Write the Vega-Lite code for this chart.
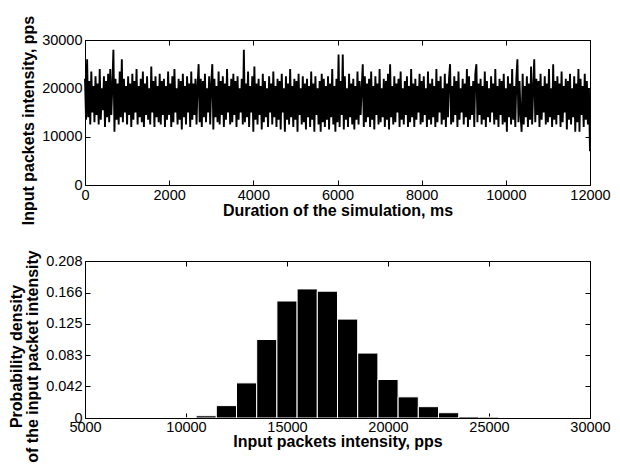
{
"$schema": "https://vega.github.io/schema/vega-lite/v6.json",
"background": "white",
"padding": {"left": 8, "top": 14, "right": 0, "bottom": 0},
"config": {
  "font": "Liberation Sans",
  "view": {"stroke": "black", "strokeWidth": 1},
  "axis": {"grid": false, "domain": false, "tickColor": "black", "tickSize": -5, "tickWidth": 1,
    "labelFont": "Liberation Sans", "labelFontSize": 14.5, "labelColor": "black", "labelFlush": false, "labelOverlap": false,
    "titleFont": "Liberation Sans", "titleFontSize": 16, "titleFontWeight": "bold", "titleColor": "black"}
},
"datasets": {
"series": [
{"t":0,"v":22000},{"t":25,"v":13500},{"t":50,"v":26000},{"t":75,"v":14000},{"t":100,"v":21500},{"t":125,"v":12500},{"t":150,"v":23500},{"t":175,"v":15000},{"t":200,"v":20500},{"t":225,"v":13000},
{"t":250,"v":22500},{"t":275,"v":14500},{"t":300,"v":21000},{"t":325,"v":12500},{"t":350,"v":24000},{"t":375,"v":13500},{"t":400,"v":20000},{"t":425,"v":15500},{"t":450,"v":22500},{"t":475,"v":12000},
{"t":500,"v":21500},{"t":525,"v":14000},{"t":550,"v":23000},{"t":575,"v":13000},{"t":600,"v":24000},{"t":625,"v":14500},{"t":650,"v":20500},{"t":675,"v":28000},{"t":700,"v":11000},{"t":725,"v":22000},
{"t":750,"v":13500},{"t":775,"v":21000},{"t":800,"v":12500},{"t":825,"v":23500},{"t":850,"v":14000},{"t":875,"v":26000},{"t":900,"v":13000},{"t":925,"v":22000},{"t":950,"v":15000},{"t":975,"v":20500},
{"t":1000,"v":12500},{"t":1025,"v":22500},{"t":1050,"v":14500},{"t":1075,"v":21000},{"t":1100,"v":12000},{"t":1125,"v":23000},{"t":1150,"v":13500},{"t":1175,"v":21500},{"t":1200,"v":15000},{"t":1225,"v":24000},
{"t":1250,"v":12500},{"t":1275,"v":20500},{"t":1300,"v":14000},{"t":1325,"v":22000},{"t":1350,"v":13000},{"t":1375,"v":23500},{"t":1400,"v":12000},{"t":1425,"v":21000},{"t":1450,"v":14500},{"t":1475,"v":22500},
{"t":1500,"v":13500},{"t":1525,"v":20000},{"t":1550,"v":12500},{"t":1575,"v":24500},{"t":1600,"v":15000},{"t":1625,"v":21500},{"t":1650,"v":12000},{"t":1675,"v":22500},{"t":1700,"v":14000},{"t":1725,"v":20500},
{"t":1750,"v":13000},{"t":1775,"v":23000},{"t":1800,"v":12500},{"t":1825,"v":21500},{"t":1850,"v":14500},{"t":1875,"v":22000},{"t":1900,"v":12000},{"t":1925,"v":20500},{"t":1950,"v":13500},{"t":1975,"v":23500},
{"t":2000,"v":14500},{"t":2025,"v":21000},{"t":2050,"v":12000},{"t":2075,"v":22500},{"t":2100,"v":13000},{"t":2125,"v":24000},{"t":2150,"v":15000},{"t":2175,"v":20000},{"t":2200,"v":12500},{"t":2225,"v":22000},
{"t":2250,"v":13500},{"t":2275,"v":21500},{"t":2300,"v":11500},{"t":2325,"v":23000},{"t":2350,"v":14000},{"t":2375,"v":20500},{"t":2400,"v":12500},{"t":2425,"v":22500},{"t":2450,"v":15000},{"t":2475,"v":21000},
{"t":2500,"v":12000},{"t":2525,"v":23500},{"t":2550,"v":13500},{"t":2575,"v":21000},{"t":2600,"v":14500},{"t":2625,"v":22000},{"t":2650,"v":12500},{"t":2675,"v":20500},{"t":2700,"v":25000},{"t":2725,"v":13000},
{"t":2750,"v":22000},{"t":2775,"v":12000},{"t":2800,"v":21500},{"t":2825,"v":14000},{"t":2850,"v":23000},{"t":2875,"v":13000},{"t":2900,"v":20000},{"t":2925,"v":15000},{"t":2950,"v":22500},{"t":2975,"v":12500},
{"t":3000,"v":21000},{"t":3025,"v":25000},{"t":3050,"v":11500},{"t":3075,"v":22000},{"t":3100,"v":14000},{"t":3125,"v":20500},{"t":3150,"v":13000},{"t":3175,"v":23500},{"t":3200,"v":12500},{"t":3225,"v":21500},
{"t":3250,"v":14500},{"t":3275,"v":22500},{"t":3300,"v":12000},{"t":3325,"v":21000},{"t":3350,"v":13500},{"t":3375,"v":24000},{"t":3400,"v":15000},{"t":3425,"v":20500},{"t":3450,"v":12500},{"t":3475,"v":22000},
{"t":3500,"v":13000},{"t":3525,"v":23000},{"t":3550,"v":14500},{"t":3575,"v":21500},{"t":3600,"v":12000},{"t":3625,"v":22500},{"t":3650,"v":13500},{"t":3675,"v":20000},{"t":3700,"v":15000},{"t":3725,"v":22000},
{"t":3750,"v":12500},{"t":3775,"v":28000},{"t":3800,"v":13000},{"t":3825,"v":21000},{"t":3850,"v":14000},{"t":3875,"v":23500},{"t":3900,"v":12000},{"t":3925,"v":20500},{"t":3950,"v":15000},{"t":3975,"v":22500},
{"t":4000,"v":11000},{"t":4025,"v":24500},{"t":4050,"v":13500},{"t":4075,"v":21000},{"t":4100,"v":12500},{"t":4125,"v":22000},{"t":4150,"v":14500},{"t":4175,"v":20500},{"t":4200,"v":11500},{"t":4225,"v":23000},
{"t":4250,"v":13000},{"t":4275,"v":21500},{"t":4300,"v":14000},{"t":4325,"v":20000},{"t":4350,"v":12000},{"t":4375,"v":22500},{"t":4400,"v":15000},{"t":4425,"v":21000},{"t":4450,"v":12500},{"t":4475,"v":23500},
{"t":4500,"v":14000},{"t":4525,"v":20500},{"t":4550,"v":12000},{"t":4575,"v":22000},{"t":4600,"v":13500},{"t":4625,"v":21500},{"t":4650,"v":11500},{"t":4675,"v":23000},{"t":4700,"v":15000},{"t":4725,"v":20000},
{"t":4750,"v":11000},{"t":4775,"v":22500},{"t":4800,"v":13500},{"t":4825,"v":21000},{"t":4850,"v":12500},{"t":4875,"v":24000},{"t":4900,"v":14000},{"t":4925,"v":20500},{"t":4950,"v":12000},{"t":4975,"v":22000},
{"t":5000,"v":13500},{"t":5025,"v":21500},{"t":5050,"v":11000},{"t":5075,"v":23000},{"t":5100,"v":14500},{"t":5125,"v":20000},{"t":5150,"v":12500},{"t":5175,"v":22500},{"t":5200,"v":13000},{"t":5225,"v":21000},
{"t":5250,"v":11500},{"t":5275,"v":22000},{"t":5300,"v":14000},{"t":5325,"v":20500},{"t":5350,"v":12000},{"t":5375,"v":23500},{"t":5400,"v":13500},{"t":5425,"v":21000},{"t":5450,"v":11000},{"t":5475,"v":22500},
{"t":5500,"v":14500},{"t":5525,"v":20000},{"t":5550,"v":12500},{"t":5575,"v":21500},{"t":5600,"v":11000},{"t":5625,"v":23000},{"t":5650,"v":13000},{"t":5675,"v":22000},{"t":5700,"v":12000},{"t":5725,"v":20500},
{"t":5750,"v":13500},{"t":5775,"v":22500},{"t":5800,"v":11500},{"t":5825,"v":21000},{"t":5850,"v":14000},{"t":5875,"v":24000},{"t":5900,"v":12500},{"t":5925,"v":20500},{"t":5950,"v":11000},{"t":5975,"v":22000},
{"t":6000,"v":13000},{"t":6025,"v":27000},{"t":6050,"v":12000},{"t":6075,"v":21500},{"t":6100,"v":14500},{"t":6125,"v":27000},{"t":6150,"v":11500},{"t":6175,"v":22500},{"t":6200,"v":13500},{"t":6225,"v":20000},
{"t":6250,"v":12000},{"t":6275,"v":23000},{"t":6300,"v":14000},{"t":6325,"v":21000},{"t":6350,"v":12500},{"t":6375,"v":22000},{"t":6400,"v":11500},{"t":6425,"v":20500},{"t":6450,"v":13500},{"t":6475,"v":23500},
{"t":6500,"v":12500},{"t":6525,"v":21500},{"t":6550,"v":14500},{"t":6575,"v":20000},{"t":6600,"v":25000},{"t":6625,"v":12000},{"t":6650,"v":22500},{"t":6675,"v":13000},{"t":6700,"v":21000},{"t":6725,"v":14000},
{"t":6750,"v":22000},{"t":6775,"v":12000},{"t":6800,"v":23500},{"t":6825,"v":13500},{"t":6850,"v":20500},{"t":6875,"v":11500},{"t":6900,"v":22500},{"t":6925,"v":14500},{"t":6950,"v":21000},{"t":6975,"v":12500},
{"t":7000,"v":24000},{"t":7025,"v":13000},{"t":7050,"v":20000},{"t":7075,"v":14000},{"t":7100,"v":22000},{"t":7125,"v":12000},{"t":7150,"v":21500},{"t":7175,"v":13500},{"t":7200,"v":23000},{"t":7225,"v":11500},
{"t":7250,"v":25000},{"t":7275,"v":14000},{"t":7300,"v":20500},{"t":7325,"v":12500},{"t":7350,"v":22500},{"t":7375,"v":13000},{"t":7400,"v":21000},{"t":7425,"v":15000},{"t":7450,"v":22000},{"t":7475,"v":12000},
{"t":7500,"v":23500},{"t":7525,"v":13500},{"t":7550,"v":20000},{"t":7575,"v":12500},{"t":7600,"v":21500},{"t":7625,"v":14500},{"t":7650,"v":22500},{"t":7675,"v":12000},{"t":7700,"v":20500},{"t":7725,"v":13000},
{"t":7750,"v":24000},{"t":7775,"v":14000},{"t":7800,"v":21000},{"t":7825,"v":12000},{"t":7850,"v":22000},{"t":7875,"v":13500},{"t":7900,"v":20500},{"t":7925,"v":15000},{"t":7950,"v":23000},{"t":7975,"v":12500},
{"t":8000,"v":21500},{"t":8025,"v":13000},{"t":8050,"v":22500},{"t":8075,"v":14500},{"t":8100,"v":20000},{"t":8125,"v":12000},{"t":8150,"v":23500},{"t":8175,"v":13500},{"t":8200,"v":21000},{"t":8225,"v":12500},
{"t":8250,"v":22000},{"t":8275,"v":14000},{"t":8300,"v":20500},{"t":8325,"v":12000},{"t":8350,"v":24000},{"t":8375,"v":13000},{"t":8400,"v":21500},{"t":8425,"v":15000},{"t":8450,"v":22500},{"t":8475,"v":12500},
{"t":8500,"v":20000},{"t":8525,"v":13500},{"t":8550,"v":23000},{"t":8575,"v":12000},{"t":8600,"v":21000},{"t":8625,"v":14000},{"t":8650,"v":22000},{"t":8675,"v":25000},{"t":8700,"v":12500},{"t":8725,"v":20500},
{"t":8750,"v":13000},{"t":8775,"v":22500},{"t":8800,"v":14500},{"t":8825,"v":21500},{"t":8850,"v":12000},{"t":8875,"v":23500},{"t":8900,"v":13500},{"t":8925,"v":20000},{"t":8950,"v":15000},{"t":8975,"v":22000},
{"t":9000,"v":12500},{"t":9025,"v":21000},{"t":9050,"v":14000},{"t":9075,"v":24000},{"t":9100,"v":12000},{"t":9125,"v":22500},{"t":9150,"v":13500},{"t":9175,"v":20500},{"t":9200,"v":14500},{"t":9225,"v":21500},
{"t":9250,"v":12000},{"t":9275,"v":23000},{"t":9300,"v":25000},{"t":9325,"v":13000},{"t":9350,"v":21000},{"t":9375,"v":14500},{"t":9400,"v":22000},{"t":9425,"v":12500},{"t":9450,"v":20500},{"t":9475,"v":13500},
{"t":9500,"v":23500},{"t":9525,"v":12000},{"t":9550,"v":21500},{"t":9575,"v":14000},{"t":9600,"v":20000},{"t":9625,"v":13000},{"t":9650,"v":22500},{"t":9675,"v":15000},{"t":9700,"v":21000},{"t":9725,"v":12500},
{"t":9750,"v":24000},{"t":9775,"v":13500},{"t":9800,"v":20500},{"t":9825,"v":12000},{"t":9850,"v":22000},{"t":9875,"v":14500},{"t":9900,"v":21500},{"t":9925,"v":12500},{"t":9950,"v":23000},{"t":9975,"v":13000},
{"t":10000,"v":20000},{"t":10025,"v":11000},{"t":10050,"v":22500},{"t":10075,"v":14000},{"t":10100,"v":21000},{"t":10125,"v":12500},{"t":10150,"v":24000},{"t":10175,"v":13500},{"t":10200,"v":20500},{"t":10225,"v":12000},
{"t":10250,"v":22000},{"t":10275,"v":26000},{"t":10300,"v":13000},{"t":10325,"v":21500},{"t":10350,"v":14500},{"t":10375,"v":11000},{"t":10400,"v":23000},{"t":10425,"v":12500},{"t":10450,"v":20500},{"t":10475,"v":14000},
{"t":10500,"v":22500},{"t":10525,"v":12000},{"t":10550,"v":21000},{"t":10575,"v":13500},{"t":10600,"v":24500},{"t":10625,"v":12500},{"t":10650,"v":20000},{"t":10675,"v":26000},{"t":10700,"v":13000},{"t":10725,"v":22000},
{"t":10750,"v":14500},{"t":10775,"v":21500},{"t":10800,"v":12000},{"t":10825,"v":23000},{"t":10850,"v":13500},{"t":10875,"v":20500},{"t":10900,"v":15000},{"t":10925,"v":22500},{"t":10950,"v":12500},{"t":10975,"v":21000},
{"t":11000,"v":13000},{"t":11025,"v":24000},{"t":11050,"v":14000},{"t":11075,"v":20000},{"t":11100,"v":12000},{"t":11125,"v":25000},{"t":11150,"v":13500},{"t":11175,"v":21500},{"t":11200,"v":12500},{"t":11225,"v":22500},
{"t":11250,"v":14500},{"t":11275,"v":21000},{"t":11300,"v":12000},{"t":11325,"v":23500},{"t":11350,"v":13000},{"t":11375,"v":20500},{"t":11400,"v":15000},{"t":11425,"v":22000},{"t":11450,"v":11500},{"t":11475,"v":21500},
{"t":11500,"v":13500},{"t":11525,"v":23000},{"t":11550,"v":12500},{"t":11575,"v":20000},{"t":11600,"v":14000},{"t":11625,"v":22500},{"t":11650,"v":11000},{"t":11675,"v":21000},{"t":11700,"v":13000},{"t":11725,"v":24000},
{"t":11750,"v":11000},{"t":11775,"v":22000},{"t":11800,"v":14500},{"t":11825,"v":20500},{"t":11850,"v":12000},{"t":11875,"v":23000},{"t":11900,"v":13500},{"t":11925,"v":21500},{"t":11950,"v":12500},{"t":11975,"v":20000},
{"t":12000,"v":7000}
],
"hist": [
{"lo":6500,"hi":7500,"d":0},{"lo":7500,"hi":8500,"d":0},{"lo":8500,"hi":9500,"d":0},{"lo":9500,"hi":10500,"d":0},
{"lo":10500,"hi":11500,"d":0.003},{"lo":11500,"hi":12500,"d":0.0164},{"lo":12500,"hi":13500,"d":0.0465},{"lo":13500,"hi":14500,"d":0.104},
{"lo":14500,"hi":15500,"d":0.155},{"lo":15500,"hi":16500,"d":0.171},{"lo":16500,"hi":17500,"d":0.168},{"lo":17500,"hi":18500,"d":0.131},
{"lo":18500,"hi":19500,"d":0.086},{"lo":19500,"hi":20500,"d":0.051},{"lo":20500,"hi":21500,"d":0.028},{"lo":21500,"hi":22500,"d":0.015},
{"lo":22500,"hi":23500,"d":0.007},{"lo":23500,"hi":24500,"d":0.002},{"lo":24500,"hi":25500,"d":0.0013},
{"lo":25500,"hi":26500,"d":0},{"lo":26500,"hi":27500,"d":0},{"lo":27500,"hi":28500,"d":0}
]
},
"bounds": "flush",
"spacing": 76,
"vconcat": [
{
  "width": 505, "height": 145,
  "data": {"name": "series"},
  "layer": [
    {"mark": {"type": "line", "color": "black", "strokeWidth": 1.9},
     "encoding": {
       "x": {"field": "t", "type": "quantitative", "scale": {"domain": [0, 12000], "nice": false},
             "axis": {"orient": "bottom", "values": [0,2000,4000,6000,8000,10000,12000], "format": "d",
                      "title": "Duration of the simulation, ms", "labelPadding": 8, "titlePadding": 1}},
       "y": {"field": "v", "type": "quantitative", "scale": {"domain": [0, 30000], "nice": false},
             "axis": {"orient": "left", "values": [0,10000,20000,30000], "format": "d",
                      "title": "Input packets intensity, pps", "labelPadding": 8, "titlePadding": 5, "titleY": 80}}
     }},
    {"mark": {"type": "point", "opacity": 0},
     "encoding": {
       "x": {"field": "t", "type": "quantitative",
             "axis": {"orient": "top", "values": [0,2000,4000,6000,8000,10000,12000], "labels": false, "title": null}},
       "y": {"field": "v", "type": "quantitative",
             "axis": {"orient": "right", "values": [0,10000,20000,30000], "labels": false, "title": null}}
     }}
  ],
  "resolve": {"axis": {"x": "independent", "y": "independent"}}
},
{
  "width": 505, "height": 157,
  "data": {"name": "hist"},
  "layer": [
    {"mark": {"type": "bar", "color": "black", "stroke": "white", "strokeWidth": 1, "clip": true},
     "encoding": {
       "x": {"field": "lo", "type": "quantitative", "scale": {"domain": [5000, 30000], "nice": false},
             "axis": {"orient": "bottom", "values": [5000,10000,15000,20000,25000,30000], "format": "d",
                      "title": "Input packets intensity, pps", "labelPadding": 7, "titlePadding": 0}},
       "x2": {"field": "hi"},
       "y": {"field": "d", "type": "quantitative", "scale": {"domain": [0, 0.208], "nice": false},
             "axis": {"orient": "left", "values": [0,0.042,0.083,0.125,0.166,0.208], "format": ".3~f",
                      "title": ["Probability density", "of the input packet intensity"], "titleLineHeight": 16,
                      "labelPadding": 8, "titlePadding": 5, "titleY": 95}},
       "y2": {"datum": 0}
     }},
    {"mark": {"type": "point", "opacity": 0},
     "encoding": {
       "x": {"field": "lo", "type": "quantitative",
             "axis": {"orient": "top", "values": [5000,10000,15000,20000,25000,30000], "labels": false, "title": null}},
       "y": {"field": "d", "type": "quantitative",
             "axis": {"orient": "right", "values": [0,0.042,0.083,0.125,0.166,0.208], "labels": false, "title": null}}
     }}
  ],
  "resolve": {"axis": {"x": "independent", "y": "independent"}}
}
]
}
